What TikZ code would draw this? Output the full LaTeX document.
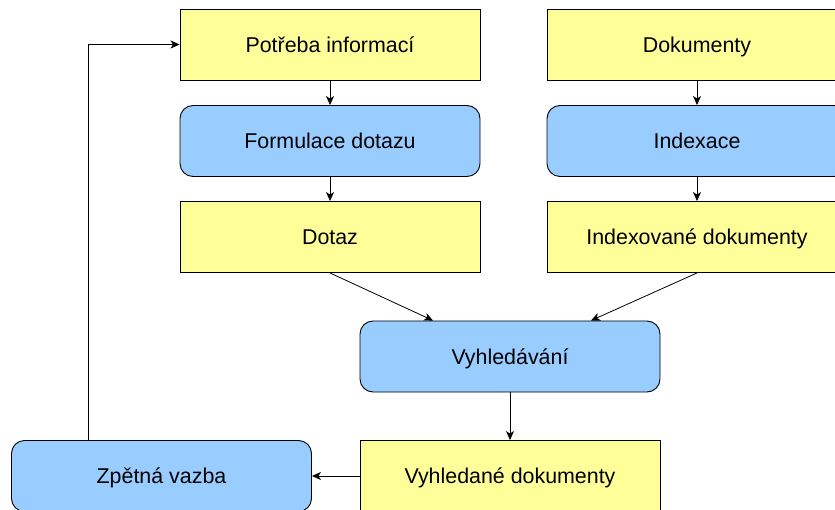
\documentclass[tikz,border=0pt]{standalone}
\usepackage{fontspec}
\setmainfont{Liberation Sans}
\usepackage{tikz}
\usepackage{xcolor}
\usetikzlibrary{shapes, positioning, arrows.meta}

\definecolor{dataYellow}{HTML}{FFFF99}
\definecolor{procBlue}{HTML}{99CCFF}

\tikzset{
    databox/.style={rectangle, draw, line width=0.9pt, fill=dataYellow, minimum width=300pt, minimum height=71pt, inner sep=0pt, text height=15.3pt, text depth=0pt, font=\fontsize{21.4}{25}\selectfont},
    procbox/.style={databox, fill=procBlue, rounded corners=13pt},
    flow/.style={-{Stealth[length=9pt,width=8pt,inset=2.5pt]}, line width=0.8pt}
}

\begin{document}
\begin{tikzpicture}[x=1pt, y=-1pt]
        \useasboundingbox[fill=white] (0,0) rectangle (835,510);

        \node[databox] (potreba) at (330, 44.5) {Potřeba informací};
        \node[databox] (dokumenty) at (697, 44.5) {Dokumenty};
        \node[procbox] (formulace) at (330, 141) {Formulace dotazu};
        \node[procbox] (indexace) at (697, 141) {Indexace};
        \node[databox] (dotaz) at (330, 237) {Dotaz};
        \node[databox] (indexovane) at (697, 237) {Indexované dokumenty};
        \node[procbox] (vyhledavani) at (510, 356.5) {Vyhledávání};
        \node[procbox] (zpetna) at (161.5, 476) {Zpětná vazba};
        \node[databox] (vyhledane) at (510, 476) {Vyhledané dokumenty};

        \draw[flow] (potreba) to (formulace);
        \draw[flow] (formulace) to (dotaz);
        \draw[flow] (dokumenty) to (indexace);
        \draw[flow] (indexace) to (indexovane);
        \draw[flow] (dotaz.south) to ([xshift=-77pt]vyhledavani.north);
        \draw[flow] (indexovane.south) to ([xshift=81pt]vyhledavani.north);
        \draw[flow] (vyhledavani) to (vyhledane);
        \draw[flow] (vyhledane) to (zpetna);
        \draw[flow] ([xshift=-73.5pt]zpetna.north) |- (potreba.west);
    \end{tikzpicture}
\end{document}
